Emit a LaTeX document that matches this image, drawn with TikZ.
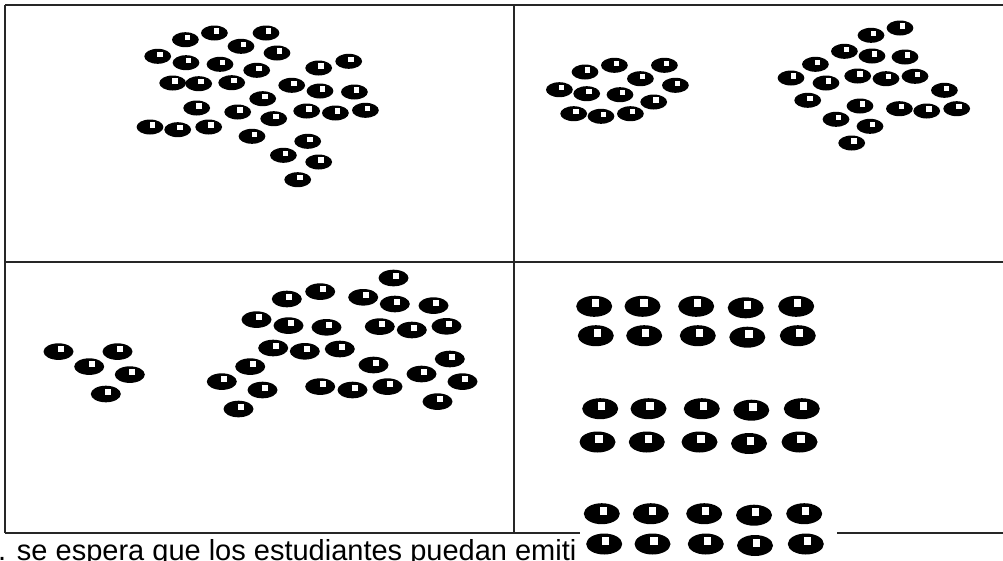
\documentclass[tikz,border=0pt]{standalone}
\usepackage{fontspec}
\setmainfont{Liberation Sans}
\begin{document}
\begin{tikzpicture}[x=1pt,y=-1pt,
  gridline/.style={draw=black!85,line width=1.4pt},
  ]
\useasboundingbox (0,0) rectangle (1003,560);
\clip (0,0) rectangle (1003,560);
% table
\draw[gridline] (5,5) -- (1003,5);
\draw[gridline] (5,262) -- (1003,262);
\draw[gridline] (5,533) -- (1003,533);
\draw[gridline] (5,5) -- (5,533);
\draw[gridline] (514,5) -- (514,533);
% small dots: square position given
\newcommand\smalldot[2]{%
  \fill[black] (#1-2.3,#2+2) ellipse [x radius=13.4pt, y radius=7.5pt];
  \fill[white] (#1-2.7,#2-2.7) rectangle (#1+2.7,#2+2.7);}
\newcommand\middot[2]{%
  \fill[black] (#1-2.5,#2+2.3) ellipse [x radius=15pt, y radius=8.3pt];
  \fill[white] (#1-2.9,#2-2.9) rectangle (#1+2.9,#2+2.9);}
\newcommand\bigdot[2]{%
  \fill[black] (#1-1.5,#2+3) ellipse [x radius=18pt, y radius=10.5pt];
  \fill[white] (#1-3.7,#2-4) rectangle (#1+3.7,#2+4);}
% quadrant 1
\foreach \x/\y in {216.7/31, 268.3/31, 187.7/37.7, 243.3/44.3, 279.3/51, 160/54.3, 188.3/60.7, 222.3/62.3, 259/68.3, 351/59.3, 321/66, 175/81, 201/81.7, 234/80.7, 294/83.3, 322.3/89, 356.7/90, 265/96.7, 199/106, 240/110, 309/109, 337.7/111, 367.7/108.3, 152.3/125, 180/127.7, 211/125, 276/116.7, 254.3/134.3, 310/139.3, 285.7/153.3, 321/160, 300/177.7}
  {\smalldot{\x}{\y}}
% quadrant 2
\foreach \x/\y in {587.3/70, 616.7/63.3, 666.7/63.3, 642.7/76.7, 561.7/87.7, 589/91.7, 622.3/92.7, 677.7/83.3, 656/100, 576/111.7, 603.3/114.3, 632.7/111.7,
  902.3/26, 873.3/33.3, 846.7/49.3, 874.3/54, 907.3/55, 817.7/62.3, 793.3/76, 828.3/81, 860/74, 888.3/76.7, 917.3/74.3, 946.7/88.3, 810/98.3, 862.3/104, 901.7/106.7, 929/109, 959/106.7, 838.3/117.3, 872.3/124.3, 854/141}
  {\smalldot{\x}{\y}}
% quadrant 3
\foreach \x/\y in {61/349.3, 120/349.3, 91.7/364.3, 132.3/372.3, 108.3/391.7,
  396/275.7, 322.7/289.3, 365.7/295, 289.3/296.7, 397.3/301.7, 436/303.3, 259/317.3, 291/323.3, 329/325, 382.3/324.3, 414.3/327.7, 449/324, 275.7/345.7, 307.3/349, 342.3/346.7, 376/362.7, 452.3/356.7, 252.7/364.3, 424/371.7, 224.3/379.3, 265/387.7, 322.7/384.3, 355/387.7, 390/384.3, 465/379.3, 440/399.3, 241/406.7}
  {\middot{\x}{\y}}
% quadrant 4 (pasted picture on white)
\fill[white] (580,285) rectangle (837,560);
\foreach \y/\xa/\xb/\xc/\xd/\xe in {303.3/595.7/644/697.7/746.7/797.7,
  332.7/597.3/645.7/699.3/748.3/799.3,
  405.7/601.7/650/703.3/752.3/803.3,
  439/599/648.3/701/750/801,
  510.7/603.3/652.3/705.7/755/805.7,
  541/605.7/654/707.3/756/807.3}
  {\bigdot{\xa}{\y}\bigdot{\xb}{\y}\bigdot{\xc}{\y}\bigdot{\xd+0.5}{\y+1.5}\bigdot{\xe}{\y}}
% caption text
\node[anchor=base west,inner sep=0pt,font=\fontsize{29}{29}\selectfont] (cap) at (-2,560) {. se espera que los estudiantes puedan emiti};
\end{tikzpicture}
\end{document}
